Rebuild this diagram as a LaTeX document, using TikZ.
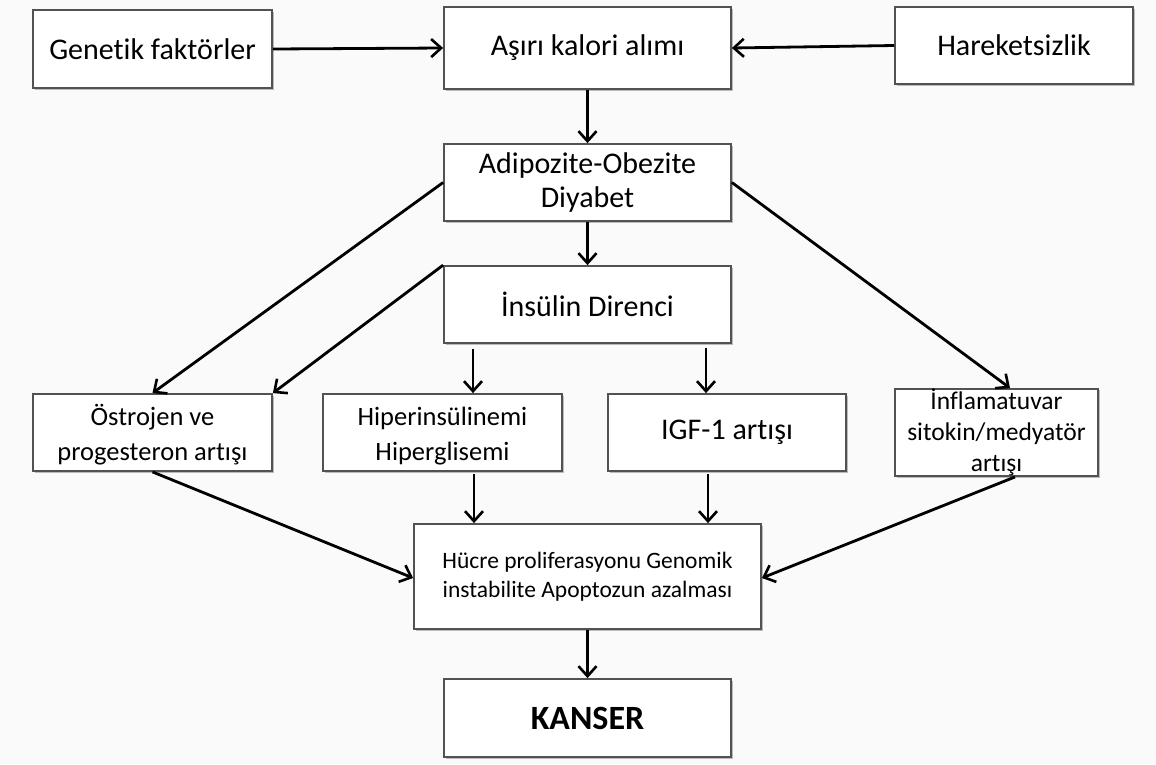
\documentclass[tikz,border=0pt]{standalone}
\usepackage{fontspec}
\setmainfont{Carlito}[Ligatures={NoCommon}]
\usetikzlibrary{arrows.meta,shadows}
\begin{document}
\begin{tikzpicture}[x=1pt,y=-1pt,
  box/.style={draw=black!68,line width=1.8pt,fill=white,rectangle,inner sep=0pt,align=center,
    text=black,drop shadow={shadow xshift=1.5pt,shadow yshift=-1.5pt,fill=black,opacity=0.25}},
  big/.style={font=\fontsize{30}{34}\selectfont},
  mid/.style={font=\fontsize{26.5}{35}\selectfont},
  sml/.style={font=\fontsize{25.5}{31}\selectfont},
  tiny/.style={font=\fontsize{23.5}{29}\selectfont},
  arr/.style={line width=2.8pt,-{Straight Barb[length=10pt,width=18pt,line width=2.6pt]}}]
\fill[black!2] (0,0) rectangle (1156,764);
\useasboundingbox (0,0) rectangle (1156,764);
% boxes
\node[box,big,minimum width=239pt,minimum height=78pt] (gen) at (152.5,49) {Genetik faktörler};
\node[box,big,minimum width=287pt,minimum height=82pt] (asiri) at (587.5,48) {Aşırı kalori alımı};
\node[box,big,minimum width=238pt,minimum height=77pt] (hare) at (1014,45.5) {Hareketsizlik};
\node[box,big,minimum width=287pt,minimum height=77pt] (adip) at (587.5,182.5) {Adipozite-Obezite\\Diyabet};
\node[box,big,minimum width=287pt,minimum height=77pt] (ins) at (587.5,304.5) {İnsülin Direnci};
\node[box,mid,minimum width=239pt,minimum height=77pt] (ost) at (152.5,432.5) {\rule{0pt}{26pt}Östrojen ve\\progesteron artışı};
\node[box,mid,minimum width=239pt,minimum height=77pt] (hip) at (442.5,432.5) {\rule{0pt}{26pt}Hiperinsülinemi\\Hiperglisemi};
\node[box,big,minimum width=238pt,minimum height=77pt] (igf) at (727,432.5) {IGF-1 artışı};
\node[box,sml,minimum width=203pt,minimum height=77pt] (inf) at (996.5,432.5) {İnflamatuvar\\sitokin/medyatör\\artışı};
\node[box,tiny,minimum width=347pt,minimum height=105pt] (hucre) at (587.5,576.5) {Hücre proliferasyonu Genomik\\instabilite Apoptozun azalması};
\node[box,font=\fontsize{34}{36}\selectfont\bfseries,minimum width=287pt,minimum height=78pt] (kanser) at (587.5,718) {KANSER};
% helper coordinates
\coordinate (infin) at ([xshift=13.5pt]inf.north);
\coordinate (infout) at ([xshift=18.5pt]inf.south);
\coordinate (hipin) at ([xshift=30.5pt]hip.north);
\coordinate (igfin) at ([xshift=-21pt]igf.north);
\coordinate (hipout) at ([xshift=31.5pt,yshift=-2pt]hip.south);
\coordinate (igfout) at ([xshift=-19pt,yshift=-2pt]igf.south);
% connectors
\draw[arr] (gen.east) -- (asiri.west);
\draw[arr] (hare.west) -- (asiri.east);
\draw[arr] (asiri.south) -- (adip.north);
\draw[arr] (adip.south) -- (ins.north);
\draw[arr] (adip.west) -- (ost.north);
\draw[arr] (ins.north west) -- (ost.north east);
\draw[arr] (adip.east) -- (infin);
\draw[arr] ([yshift=-5pt]ins.south -| hipin) -- (hipin);
\draw[arr] ([yshift=-4pt]ins.south -| igfin) -- (igfin);
\draw[arr] (hipout) -- (hucre.north -| hipout);
\draw[arr] (igfout) -- (hucre.north -| igfout);
\draw[arr] (ost.south) -- ([yshift=-1.5pt]hucre.west);
\draw[arr] (infout) -- ([yshift=-1.5pt]hucre.east);
\draw[arr] (hucre.south) -- (kanser.north);
\end{tikzpicture}
\end{document}
